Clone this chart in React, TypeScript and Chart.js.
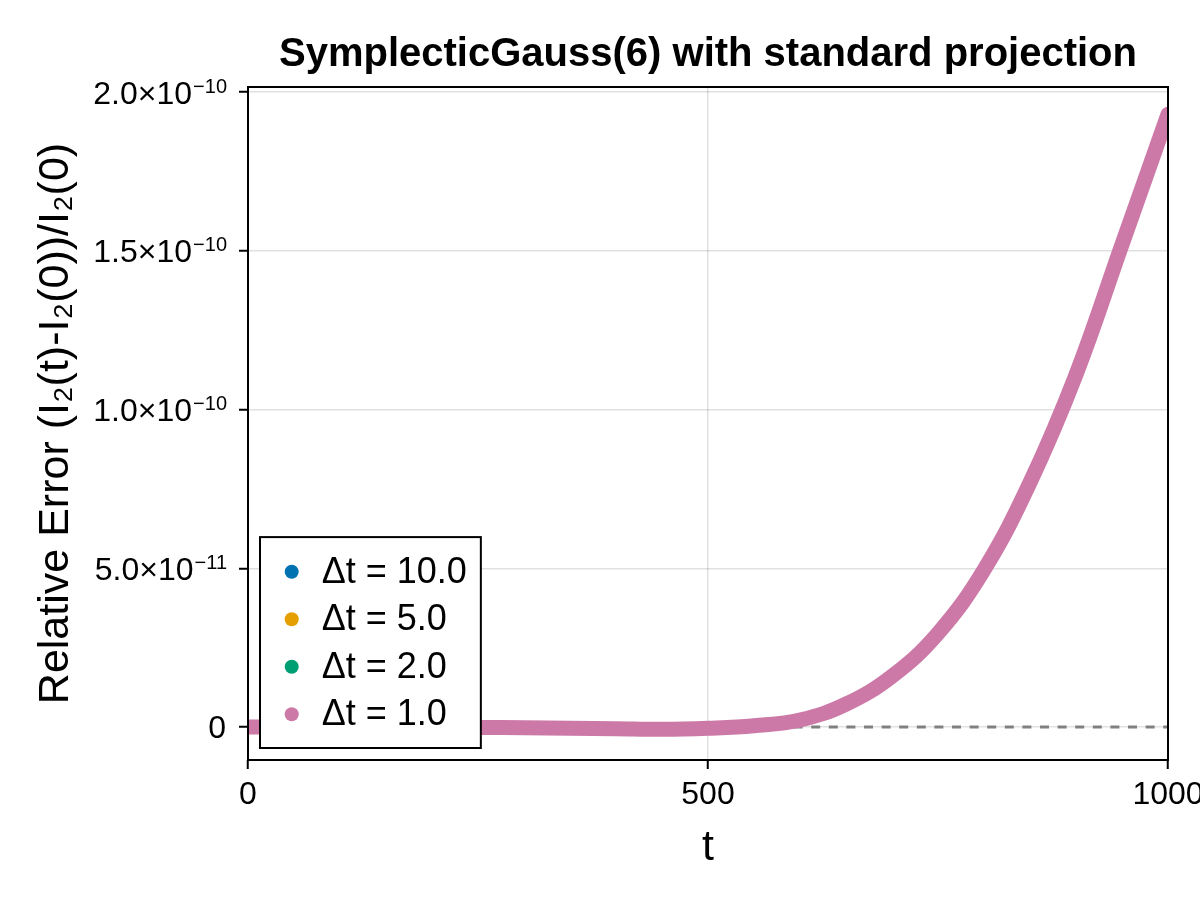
import React, { useEffect, useRef } from 'react';
import { Chart, registerables, Plugin } from 'chart.js';

Chart.register(...registerables);

const FONT = '"Liberation Sans", Arimo, "DejaVu Sans", sans-serif';

// legend entries, one per step size (drawn under each other, Δt = 1.0 on top)
const stepLabels = ['Δt = 10.0', 'Δt = 5.0', 'Δt = 2.0', 'Δt = 1.0'];
const stepColors = ['#0072B2', '#E69F00', '#009E73', '#CC79A7'];

const times = [0, 50, 100, 150, 200, 250, 300, 350, 400, 450, 500, 550, 600, 650, 700, 750, 800, 850, 900, 950, 1000];
const relError = [
    0, 0, 0, 0, 0, -1.5e-13, -2.5e-13, -4e-13, -5.5e-13, -7.5e-13, -4e-13,
    4e-13, 2.2e-12, 7.2e-12, 1.6e-11, 2.95e-11, 4.95e-11, 7.7e-11, 1.11e-10, 1.52e-10, 1.93e-10,
];

const xTicks = [0, 500, 1000];
const yTicks = [0, 5e-11, 1e-10, 1.5e-10, 2e-10];
const yTickMantissa = ['0', '5.0', '1.0', '1.5', '2.0'];
const yTickExponent = ['', '−11', '−10', '−10', '−10'];

const X_MIN = 0;
const X_MAX = 1000;
const Y_MIN = -1.04e-11;
const Y_MAX = 2.016e-10;

const TICK_SIZE = 32;

// box around the plot, y tick labels with superscripts, and the framed legend
const decorations: Plugin<'line'> = {
    id: 'decorations',
    afterDraw(chart) {
        const { ctx, chartArea: ca } = chart;
        const yScale = chart.scales.y;
        ctx.save();

        ctx.strokeStyle = '#000';
        ctx.lineWidth = 2;
        ctx.strokeRect(ca.left, ca.top, ca.right - ca.left, ca.bottom - ca.top);

        ctx.fillStyle = '#000';
        ctx.textBaseline = 'alphabetic';
        ctx.textAlign = 'right';
        yTicks.forEach((v, i) => {
            const py = yScale.getPixelForValue(v);
            const xr = ca.left - 21;
            const exp = yTickExponent[i];
            let ew = 0;
            if (exp) {
                ctx.font = `20px ${FONT}`;
                ew = ctx.measureText(exp).width;
                ctx.fillText(exp, xr, py + 0.5);
            }
            ctx.font = `${TICK_SIZE}px ${FONT}`;
            const main = exp ? yTickMantissa[i] + '×10' : yTickMantissa[i];
            ctx.fillText(main, xr - ew - 1, py + 11.5);
        });

        // legend
        const entries = chart.data.datasets.filter((d) => !!d.label);
        const rowH = 47.5;
        const boxH = 34.7 + (entries.length - 1) * rowH + 33.7;
        const boxLeft = ca.left + 12;
        const boxTop = ca.bottom - 12 - boxH;
        ctx.font = `36px ${FONT}`;
        const textW = Math.max(...entries.map((d) => ctx.measureText(d.label as string).width));
        const boxW = 61.7 + textW + 14;
        ctx.fillStyle = '#fff';
        ctx.fillRect(boxLeft, boxTop, boxW, boxH);
        ctx.strokeStyle = '#000';
        ctx.lineWidth = 2;
        ctx.strokeRect(boxLeft, boxTop, boxW, boxH);
        ctx.textAlign = 'left';
        ctx.textBaseline = 'middle';
        entries.forEach((d, i) => {
            const cy = boxTop + 34.7 + i * rowH;
            ctx.fillStyle = d.backgroundColor as string;
            ctx.beginPath();
            ctx.arc(boxLeft + 31.7, cy, 7, 0, Math.PI * 2);
            ctx.fill();
            ctx.fillStyle = '#000';
            ctx.fillText(d.label as string, boxLeft + 61.7, cy + 1);
        });

        ctx.restore();
    },
};

const App: React.FC = () => {
    const canvasRef = useRef<HTMLCanvasElement>(null);
    const chartRef = useRef<Chart | null>(null);

    useEffect(() => {
        document.body.style.margin = '0';
        if (!canvasRef.current) return;
        if (chartRef.current) chartRef.current.destroy();

        const points = times.map((t, i) => ({ x: t, y: relError[i] }));
        const last = stepLabels.length - 1;

        // the coarser runs lie under the Δt = 1.0 curve, keep them a bit thinner
        const curveSets = stepLabels.map((label, i) => ({
            label,
            data: points,
            borderColor: stepColors[i],
            backgroundColor: stepColors[i],
            borderWidth: i === last ? 15 : 12,
            pointRadius: 0,
            tension: 0.4,
            borderCapStyle: 'round' as const,
            borderJoinStyle: 'round' as const,
            clip: 0,
            order: last - i,
        }));

        chartRef.current = new Chart(canvasRef.current, {
            type: 'line',
            data: {
                datasets: [
                    ...curveSets,
                    {
                        label: '',
                        data: [{ x: X_MIN, y: 0 }, { x: X_MAX, y: 0 }],
                        borderColor: '#808080',
                        borderWidth: 3,
                        borderDash: [9, 8.6],
                        pointRadius: 0,
                        clip: 0,
                        order: 10,
                    },
                ],
            },
            options: {
                animation: false,
                responsive: true,
                maintainAspectRatio: false,
                layout: { padding: { left: 0, right: 32, top: 0, bottom: 0 } },
                plugins: {
                    legend: { display: false },
                    tooltip: { enabled: false },
                    title: {
                        display: true,
                        text: 'SymplecticGauss(6) with standard projection',
                        color: '#000',
                        fullSize: false,
                        font: { family: FONT, size: 40, weight: 'bold' },
                        padding: { top: 31, bottom: 8 },
                    },
                },
                scales: {
                    x: {
                        type: 'linear',
                        min: X_MIN,
                        max: X_MAX,
                        afterBuildTicks: (scale) => {
                            scale.ticks = xTicks.map((value) => ({ value }));
                        },
                        afterFit: (scale) => {
                            scale.height = 140;
                            scale.paddingLeft = 0;
                            scale.paddingRight = 0;
                        },
                        ticks: {
                            autoSkip: false,
                            maxRotation: 0,
                            padding: 7,
                            color: '#000',
                            font: { family: FONT, size: TICK_SIZE },
                            callback: (v) => String(v),
                        },
                        grid: {
                            color: 'rgba(0,0,0,0.12)',
                            lineWidth: 1.5,
                            tickLength: 9,
                            tickColor: '#000',
                            tickWidth: 2,
                        },
                        border: { display: false },
                        title: {
                            display: true,
                            text: 't',
                            color: '#000',
                            font: { family: FONT, size: 43 },
                            padding: { top: 0, bottom: 26 },
                        },
                    },
                    y: {
                        type: 'linear',
                        min: Y_MIN,
                        max: Y_MAX,
                        afterBuildTicks: (scale) => {
                            scale.ticks = yTicks.map((value) => ({ value }));
                        },
                        afterFit: (scale) => {
                            scale.width = 248;
                            scale.paddingTop = 0;
                            scale.paddingBottom = 0;
                        },
                        ticks: { display: false },
                        grid: {
                            color: 'rgba(0,0,0,0.12)',
                            lineWidth: 1.5,
                            tickLength: 9,
                            tickColor: '#000',
                            tickWidth: 2,
                        },
                        border: { display: false },
                        title: {
                            display: true,
                            text: 'Relative Error (I₂(t)-I₂(0))/I₂(0)',
                            color: '#000',
                            font: { family: FONT, size: 43 },
                            padding: { top: 30, bottom: 0 },
                        },
                    },
                },
            },
            plugins: [decorations],
        });

        return () => {
            if (chartRef.current) {
                chartRef.current.destroy();
                chartRef.current = null;
            }
        };
    }, []);

    return (
        <div style={{ position: 'relative', width: 1200, height: 900 }}>
            <canvas ref={canvasRef}></canvas>
        </div>
    );
};

export default App;
